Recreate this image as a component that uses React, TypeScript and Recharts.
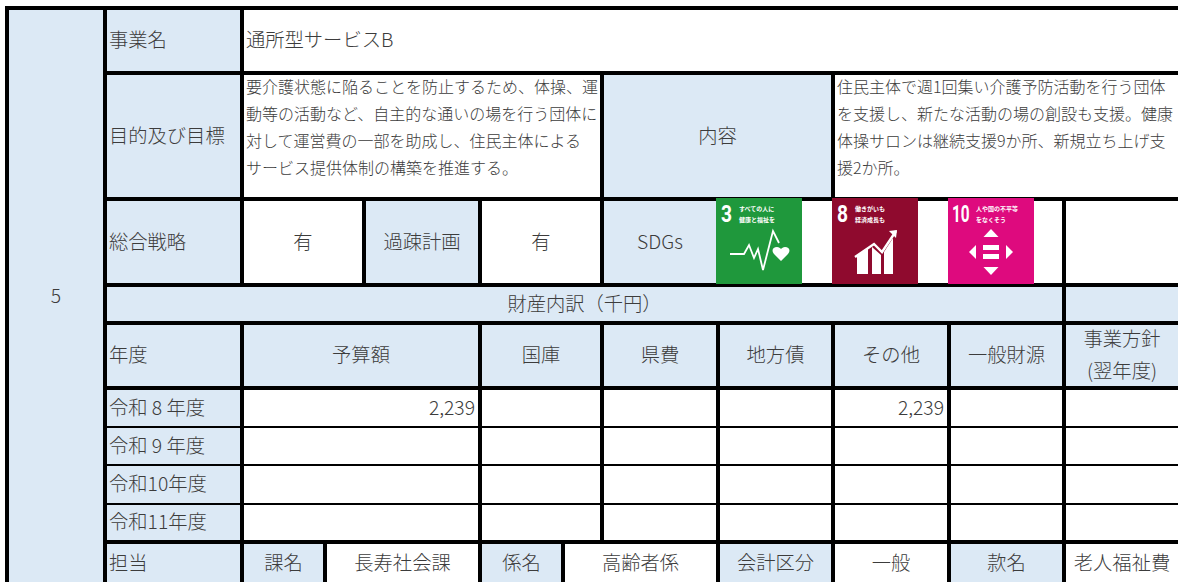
import { ComposedChart, ReferenceArea, Scatter, XAxis, YAxis } from "recharts";

const WIDTH = 1178;
const HEIGHT = 582;
const BLUE = "#DCE9F5";
const WHITE = "#FFFFFF";
const INK = "#3C3C3C";
const FONT = '"Noto Sans CJK JP", "Noto Sans", sans-serif';

// table content
const entryNumber = "5";
const rowLabels = ["事業名", "目的及び目標", "総合戦略", "年度", "担当"];
const projectName = "通所型サービスB";
const purposeLines = [
  "要介護状態に陥ることを防止するため、体操、運",
  "動等の活動など、自主的な通いの場を行う団体に",
  "対して運営費の一部を助成し、住民主体による",
  "サービス提供体制の構築を推進する。",
];
const contentLines = [
  "住民主体で週1回集い介護予防活動を行う団体",
  "を支援し、新たな活動の場の創設も支援。健康",
  "体操サロンは継続支援9か所、新規立ち上げ支",
  "援2か所。",
];
const financeTitle = "財産内訳（千円）";
const financeHeaders = ["予算額", "国庫", "県費", "地方債", "その他", "一般財源"];
const policyHeader = ["事業方針", "(翌年度)"];
const fiscalYears = ["令和 8 年度", "令和 9 年度", "令和10年度", "令和11年度"];
const budgetByYear = [2239, null, null, null];
const otherByYear = [2239, null, null, null];
const staffRow = ["課名", "長寿社会課", "係名", "高齢者係", "会計区分", "一般", "款名", "老人福祉費"];
const sdgGoals = [3, 8, 10];
const sdgCaptions = [
  ["すべての人に", "健康と福祉を"],
  ["働きがいも", "経済成長も"],
  ["人や国の不平等", "をなくそう"],
];

// grid layout, in axis units (left/top edge of every rule)
const colRules = [5, 103, 240, 323, 362, 478, 561, 600, 716, 831, 947, 1062, WIDTH];
const rowRules = [6, 71, 197, 283, 321, 386, 426, 464, 503, 540, HEIGHT];
const rowRuleWidths = [4, 4, 4, 4, 4, 4, 2, 2, 2, 4, 0];
const COL_RULE = 4;
const LAST_COL = colRules.length - 1;
const sdgTileLefts = [716, 832, 948];
const sdgColors = ["#1F983C", "#8F0A2E", "#DE0A7E"];

type Align = "left" | "center" | "right" | "para";
interface TableCell {
  c0: number;
  c1: number;
  r0: number;
  r1: number;
  fill: string;
  lines: string[];
  align: Align;
}

const cell = (
  c0: number,
  c1: number,
  r0: number,
  fill: string,
  text: string | string[] = "",
  align: Align = "center",
  r1: number = r0 + 1,
): TableCell => ({ c0, c1, r0, r1, fill, lines: Array.isArray(text) ? text : [text], align });

const amount = (v: number | null) => (v == null ? "" : v.toLocaleString("en-US"));

const financeCols = [
  [2, 5],
  [5, 7],
  [7, 8],
  [8, 9],
  [9, 10],
  [10, 11],
];

const cells: TableCell[] = [
  cell(0, 1, 0, BLUE, entryNumber, "center", 10),
  cell(1, 2, 0, BLUE, rowLabels[0], "left"),
  cell(2, LAST_COL, 0, WHITE, projectName, "left"),
  cell(1, 2, 1, BLUE, rowLabels[1], "left"),
  cell(2, 7, 1, WHITE, purposeLines, "para"),
  cell(7, 9, 1, BLUE, "内容"),
  cell(9, LAST_COL, 1, WHITE, contentLines, "para"),
  cell(1, 2, 2, BLUE, rowLabels[2], "left"),
  cell(2, 4, 2, WHITE, "有"),
  cell(4, 5, 2, BLUE, "過疎計画"),
  cell(5, 7, 2, WHITE, "有"),
  cell(7, 8, 2, BLUE, "SDGs"),
  cell(8, 11, 2, WHITE),
  cell(11, LAST_COL, 2, WHITE),
  cell(1, 11, 3, BLUE, financeTitle),
  cell(11, LAST_COL, 3, BLUE),
  cell(1, 2, 4, BLUE, rowLabels[3], "left"),
  ...financeCols.map(([a, b], i) => cell(a, b, 4, BLUE, financeHeaders[i])),
  cell(11, LAST_COL, 4, BLUE, policyHeader),
  ...fiscalYears.flatMap((year, i) => [
    cell(1, 2, 5 + i, BLUE, year, "left"),
    cell(2, 5, 5 + i, WHITE, amount(budgetByYear[i]), "right"),
    cell(5, 7, 5 + i, WHITE),
    cell(7, 8, 5 + i, WHITE),
    cell(8, 9, 5 + i, WHITE),
    cell(9, 10, 5 + i, WHITE, amount(otherByYear[i]), "right"),
    cell(10, 11, 5 + i, WHITE),
    cell(11, LAST_COL, 5 + i, WHITE),
  ]),
  cell(1, 2, 9, BLUE, rowLabels[4], "left"),
  cell(2, 3, 9, BLUE, staffRow[0]),
  cell(3, 5, 9, WHITE, staffRow[1]),
  cell(5, 6, 9, BLUE, staffRow[2]),
  cell(6, 8, 9, WHITE, staffRow[3]),
  cell(8, 9, 9, BLUE, staffRow[4]),
  cell(9, 10, 9, WHITE, staffRow[5]),
  cell(10, 11, 9, BLUE, staffRow[6]),
  cell(11, LAST_COL, 9, WHITE, staffRow[7]),
];

const cellBox = (c: TableCell) => ({
  left: colRules[c.c0] + COL_RULE,
  right: colRules[c.c1],
  top: rowRules[c.r0] + rowRuleWidths[c.r0],
  bottom: rowRules[c.r1],
});

// one scatter point per line of text, anchored inside its cell
const textPoints = cells.flatMap((c) => {
  const { left, right, top, bottom } = cellBox(c);
  return c.lines
    .filter((line) => line !== "")
    .map((text, i) => {
      if (c.align === "para") return { x: left + 2, y: top + 10.5 + i * 27, text, anchor: "start", size: 16 };
      const x = c.align === "left" ? left + 2 : c.align === "right" ? right - 3 : (left + right) / 2;
      const y = (top + bottom) / 2 - 1.5 + (i - (c.lines.length - 1) / 2) * 32;
      return { x, y, text, anchor: c.align === "left" ? "start" : c.align === "right" ? "end" : "middle", size: 19.3 };
    });
});

function CellText({ cx, cy, payload }: any) {
  return (
    <text
      x={cx}
      y={cy}
      fontFamily={FONT}
      fontWeight={300}
      fontSize={payload.size}
      fill={INK}
      textAnchor={payload.anchor}
      dominantBaseline="central"
    >
      {payload.text}
    </text>
  );
}

function GoalGlyph({ goal }: { goal: number }) {
  if (goal === 3) {
    return (
      <g>
        <polyline
          points="14,56 28,56 33,47 38,60 42,51 47,72 57,33 63,45"
          fill="none"
          stroke="#fff"
          strokeWidth={1.8}
        />
        <path d="M65 63 L58 56 C55 52 57 49 61 49 C63 49 64 50 65 51 C66 50 67 49 69 49 C73 49 75 52 72 56 Z" fill="#fff" />
      </g>
    );
  }
  if (goal === 8) {
    return (
      <g fill="#fff">
        <polygon points="25,58 36,50 36,76 25,76" />
        <polygon points="40,49 49,57 49,76 40,76" />
        <polygon points="52,54 61,40 61,76 52,76" />
        <polyline points="23,59 42,46 50,54 64,33" fill="none" stroke="#fff" strokeWidth={2.4} />
        <polygon points="65,32 57,33 64,40" />
      </g>
    );
  }
  return (
    <g fill="#fff">
      <polygon points="43,31 50.5,39 35.5,39" />
      <polygon points="43,77 50.5,69 35.5,69" />
      <polygon points="21,54 28,47 28,61" />
      <polygon points="65,54 58,47 58,61" />
      <rect x={35} y={47} width={16} height={5} />
      <rect x={35} y={56} width={16} height={5} />
    </g>
  );
}

function GoalTile({ x, y, width, height, index }: any) {
  const goal = sdgGoals[index];
  const wide = goal >= 10;
  return (
    <g transform={`translate(${x} ${y})`}>
      <rect width={width} height={height} fill={sdgColors[index]} />
      {/* the goal numbers are condensed on the real tiles */}
      <text
        transform={`translate(${wide ? 4 : 5} 24) scale(${wide ? 0.64 : 0.8} 1)`}
        fontFamily="Roboto, sans-serif"
        fontWeight={700}
        fontSize={24}
        fill="#fff"
      >
        {goal}
      </text>
      {sdgCaptions[index].map((line, i) => (
        <text key={i} x={wide ? 28 : 23} y={12.5 + i * 11} fontFamily={FONT} fontWeight={700} fontSize={6} fill="#fff">
          {line}
        </text>
      ))}
      <GoalGlyph goal={goal} />
    </g>
  );
}

export default function App() {
  return (
    <div style={{ position: "absolute", left: 0, top: 0, width: WIDTH, height: HEIGHT, background: WHITE }}>
      <ComposedChart width={WIDTH} height={HEIGHT} margin={{ top: 0, right: 0, bottom: 0, left: 0 }}>
        <XAxis type="number" dataKey="x" domain={[0, WIDTH]} hide />
        <YAxis type="number" dataKey="y" domain={[0, HEIGHT]} reversed hide />
        {/* the rules are the black sheet showing between the cells */}
        <ReferenceArea x1={colRules[0]} x2={WIDTH} y1={rowRules[0]} y2={HEIGHT} fill="#000" fillOpacity={1} stroke="none" />
        {cells.map((item, i) => {
          const box = cellBox(item);
          return (
            <ReferenceArea
              key={i}
              x1={box.left}
              x2={box.right}
              y1={box.top}
              y2={box.bottom}
              fill={item.fill}
              fillOpacity={1}
              stroke="none"
            />
          );
        })}
        {sdgGoals.map((goal, i) => (
          <ReferenceArea
            key={goal}
            x1={sdgTileLefts[i]}
            x2={sdgTileLefts[i] + 86}
            y1={198}
            y2={284}
            shape={(props: any) => <GoalTile {...props} index={i} />}
          />
        ))}
        <Scatter data={textPoints} isAnimationActive={false} shape={(props: any) => <CellText {...props} />} />
      </ComposedChart>
    </div>
  );
}
